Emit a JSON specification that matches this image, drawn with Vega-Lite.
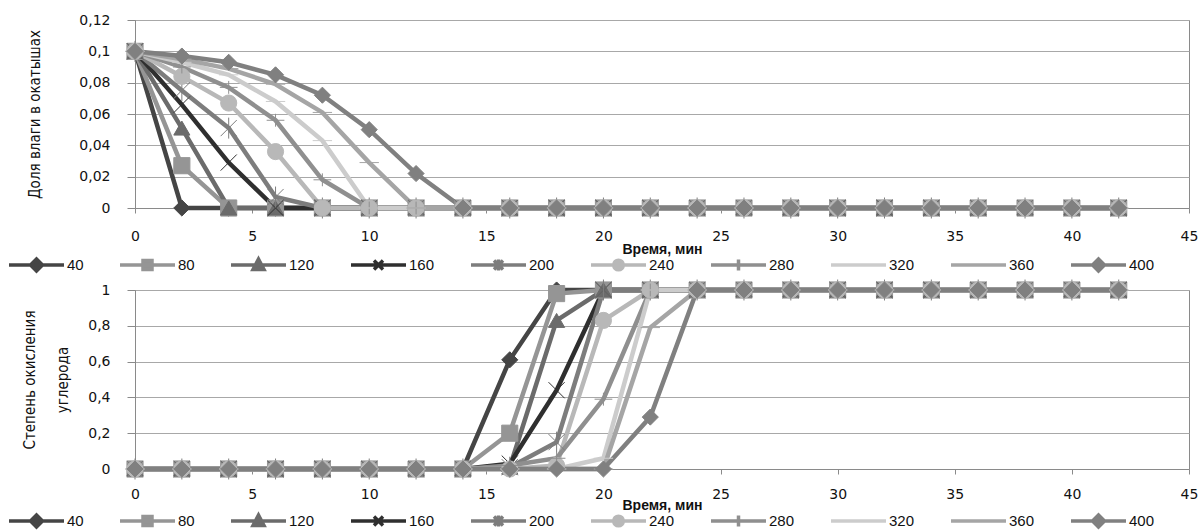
{
  "$schema": "https://vega.github.io/schema/vega-lite/v6.json",
  "background": "white",
  "padding": {"left": 6, "top": 12, "right": 4, "bottom": 2},
  "datasets": {
    "d": [
      {"s":"40","t":0,"w":0.1,"c":0},{"s":"40","t":2,"w":0,"c":0},{"s":"40","t":4,"w":0,"c":0},{"s":"40","t":6,"w":0,"c":0},{"s":"40","t":8,"w":0,"c":0},{"s":"40","t":10,"w":0,"c":0},{"s":"40","t":12,"w":0,"c":0},{"s":"40","t":14,"w":0,"c":0},{"s":"40","t":16,"w":0,"c":0.61},{"s":"40","t":18,"w":0,"c":1},{"s":"40","t":20,"w":0,"c":1},{"s":"40","t":22,"w":0,"c":1},{"s":"40","t":24,"w":0,"c":1},{"s":"40","t":26,"w":0,"c":1},{"s":"40","t":28,"w":0,"c":1},{"s":"40","t":30,"w":0,"c":1},{"s":"40","t":32,"w":0,"c":1},{"s":"40","t":34,"w":0,"c":1},{"s":"40","t":36,"w":0,"c":1},{"s":"40","t":38,"w":0,"c":1},{"s":"40","t":40,"w":0,"c":1},{"s":"40","t":42,"w":0,"c":1},
      {"s":"80","t":0,"w":0.1,"c":0},{"s":"80","t":2,"w":0.027,"c":0},{"s":"80","t":4,"w":0,"c":0},{"s":"80","t":6,"w":0,"c":0},{"s":"80","t":8,"w":0,"c":0},{"s":"80","t":10,"w":0,"c":0},{"s":"80","t":12,"w":0,"c":0},{"s":"80","t":14,"w":0,"c":0},{"s":"80","t":16,"w":0,"c":0.2},{"s":"80","t":18,"w":0,"c":0.98},{"s":"80","t":20,"w":0,"c":1},{"s":"80","t":22,"w":0,"c":1},{"s":"80","t":24,"w":0,"c":1},{"s":"80","t":26,"w":0,"c":1},{"s":"80","t":28,"w":0,"c":1},{"s":"80","t":30,"w":0,"c":1},{"s":"80","t":32,"w":0,"c":1},{"s":"80","t":34,"w":0,"c":1},{"s":"80","t":36,"w":0,"c":1},{"s":"80","t":38,"w":0,"c":1},{"s":"80","t":40,"w":0,"c":1},{"s":"80","t":42,"w":0,"c":1},
      {"s":"120","t":0,"w":0.1,"c":0},{"s":"120","t":2,"w":0.051,"c":0},{"s":"120","t":4,"w":0,"c":0},{"s":"120","t":6,"w":0,"c":0},{"s":"120","t":8,"w":0,"c":0},{"s":"120","t":10,"w":0,"c":0},{"s":"120","t":12,"w":0,"c":0},{"s":"120","t":14,"w":0,"c":0},{"s":"120","t":16,"w":0,"c":0.01},{"s":"120","t":18,"w":0,"c":0.83},{"s":"120","t":20,"w":0,"c":1},{"s":"120","t":22,"w":0,"c":1},{"s":"120","t":24,"w":0,"c":1},{"s":"120","t":26,"w":0,"c":1},{"s":"120","t":28,"w":0,"c":1},{"s":"120","t":30,"w":0,"c":1},{"s":"120","t":32,"w":0,"c":1},{"s":"120","t":34,"w":0,"c":1},{"s":"120","t":36,"w":0,"c":1},{"s":"120","t":38,"w":0,"c":1},{"s":"120","t":40,"w":0,"c":1},{"s":"120","t":42,"w":0,"c":1},
      {"s":"160","t":0,"w":0.1,"c":0},{"s":"160","t":2,"w":0.066,"c":0},{"s":"160","t":4,"w":0.029,"c":0},{"s":"160","t":6,"w":0,"c":0},{"s":"160","t":8,"w":0,"c":0},{"s":"160","t":10,"w":0,"c":0},{"s":"160","t":12,"w":0,"c":0},{"s":"160","t":14,"w":0,"c":0},{"s":"160","t":16,"w":0,"c":0.03},{"s":"160","t":18,"w":0,"c":0.44},{"s":"160","t":20,"w":0,"c":1},{"s":"160","t":22,"w":0,"c":1},{"s":"160","t":24,"w":0,"c":1},{"s":"160","t":26,"w":0,"c":1},{"s":"160","t":28,"w":0,"c":1},{"s":"160","t":30,"w":0,"c":1},{"s":"160","t":32,"w":0,"c":1},{"s":"160","t":34,"w":0,"c":1},{"s":"160","t":36,"w":0,"c":1},{"s":"160","t":38,"w":0,"c":1},{"s":"160","t":40,"w":0,"c":1},{"s":"160","t":42,"w":0,"c":1},
      {"s":"200","t":0,"w":0.1,"c":0},{"s":"200","t":2,"w":0.075,"c":0},{"s":"200","t":4,"w":0.051,"c":0},{"s":"200","t":6,"w":0.007,"c":0},{"s":"200","t":8,"w":0,"c":0},{"s":"200","t":10,"w":0,"c":0},{"s":"200","t":12,"w":0,"c":0},{"s":"200","t":14,"w":0,"c":0},{"s":"200","t":16,"w":0,"c":0.01},{"s":"200","t":18,"w":0,"c":0.15},{"s":"200","t":20,"w":0,"c":1},{"s":"200","t":22,"w":0,"c":1},{"s":"200","t":24,"w":0,"c":1},{"s":"200","t":26,"w":0,"c":1},{"s":"200","t":28,"w":0,"c":1},{"s":"200","t":30,"w":0,"c":1},{"s":"200","t":32,"w":0,"c":1},{"s":"200","t":34,"w":0,"c":1},{"s":"200","t":36,"w":0,"c":1},{"s":"200","t":38,"w":0,"c":1},{"s":"200","t":40,"w":0,"c":1},{"s":"200","t":42,"w":0,"c":1},
      {"s":"240","t":0,"w":0.1,"c":0},{"s":"240","t":2,"w":0.084,"c":0},{"s":"240","t":4,"w":0.067,"c":0},{"s":"240","t":6,"w":0.036,"c":0},{"s":"240","t":8,"w":0,"c":0},{"s":"240","t":10,"w":0,"c":0},{"s":"240","t":12,"w":0,"c":0},{"s":"240","t":14,"w":0,"c":0},{"s":"240","t":16,"w":0,"c":0},{"s":"240","t":18,"w":0,"c":0.02},{"s":"240","t":20,"w":0,"c":0.83},{"s":"240","t":22,"w":0,"c":1},{"s":"240","t":24,"w":0,"c":1},{"s":"240","t":26,"w":0,"c":1},{"s":"240","t":28,"w":0,"c":1},{"s":"240","t":30,"w":0,"c":1},{"s":"240","t":32,"w":0,"c":1},{"s":"240","t":34,"w":0,"c":1},{"s":"240","t":36,"w":0,"c":1},{"s":"240","t":38,"w":0,"c":1},{"s":"240","t":40,"w":0,"c":1},{"s":"240","t":42,"w":0,"c":1},
      {"s":"280","t":0,"w":0.1,"c":0},{"s":"280","t":2,"w":0.09,"c":0},{"s":"280","t":4,"w":0.077,"c":0},{"s":"280","t":6,"w":0.056,"c":0},{"s":"280","t":8,"w":0.018,"c":0},{"s":"280","t":10,"w":0,"c":0},{"s":"280","t":12,"w":0,"c":0},{"s":"280","t":14,"w":0,"c":0},{"s":"280","t":16,"w":0,"c":0.02},{"s":"280","t":18,"w":0,"c":0.06},{"s":"280","t":20,"w":0,"c":0.39},{"s":"280","t":22,"w":0,"c":1},{"s":"280","t":24,"w":0,"c":1},{"s":"280","t":26,"w":0,"c":1},{"s":"280","t":28,"w":0,"c":1},{"s":"280","t":30,"w":0,"c":1},{"s":"280","t":32,"w":0,"c":1},{"s":"280","t":34,"w":0,"c":1},{"s":"280","t":36,"w":0,"c":1},{"s":"280","t":38,"w":0,"c":1},{"s":"280","t":40,"w":0,"c":1},{"s":"280","t":42,"w":0,"c":1},
      {"s":"320","t":0,"w":0.1,"c":0},{"s":"320","t":2,"w":0.093,"c":0},{"s":"320","t":4,"w":0.085,"c":0},{"s":"320","t":6,"w":0.068,"c":0},{"s":"320","t":8,"w":0.043,"c":0},{"s":"320","t":10,"w":0,"c":0},{"s":"320","t":12,"w":0,"c":0},{"s":"320","t":14,"w":0,"c":0},{"s":"320","t":16,"w":0,"c":0},{"s":"320","t":18,"w":0,"c":0},{"s":"320","t":20,"w":0,"c":0.06},{"s":"320","t":22,"w":0,"c":1},{"s":"320","t":24,"w":0,"c":1},{"s":"320","t":26,"w":0,"c":1},{"s":"320","t":28,"w":0,"c":1},{"s":"320","t":30,"w":0,"c":1},{"s":"320","t":32,"w":0,"c":1},{"s":"320","t":34,"w":0,"c":1},{"s":"320","t":36,"w":0,"c":1},{"s":"320","t":38,"w":0,"c":1},{"s":"320","t":40,"w":0,"c":1},{"s":"320","t":42,"w":0,"c":1},
      {"s":"360","t":0,"w":0.1,"c":0},{"s":"360","t":2,"w":0.095,"c":0},{"s":"360","t":4,"w":0.089,"c":0},{"s":"360","t":6,"w":0.079,"c":0},{"s":"360","t":8,"w":0.061,"c":0},{"s":"360","t":10,"w":0.029,"c":0},{"s":"360","t":12,"w":0,"c":0},{"s":"360","t":14,"w":0,"c":0},{"s":"360","t":16,"w":0,"c":0},{"s":"360","t":18,"w":0,"c":0},{"s":"360","t":20,"w":0,"c":0},{"s":"360","t":22,"w":0,"c":0.79},{"s":"360","t":24,"w":0,"c":1},{"s":"360","t":26,"w":0,"c":1},{"s":"360","t":28,"w":0,"c":1},{"s":"360","t":30,"w":0,"c":1},{"s":"360","t":32,"w":0,"c":1},{"s":"360","t":34,"w":0,"c":1},{"s":"360","t":36,"w":0,"c":1},{"s":"360","t":38,"w":0,"c":1},{"s":"360","t":40,"w":0,"c":1},{"s":"360","t":42,"w":0,"c":1},
      {"s":"400","t":0,"w":0.1,"c":0},{"s":"400","t":2,"w":0.097,"c":0},{"s":"400","t":4,"w":0.093,"c":0},{"s":"400","t":6,"w":0.085,"c":0},{"s":"400","t":8,"w":0.072,"c":0},{"s":"400","t":10,"w":0.05,"c":0},{"s":"400","t":12,"w":0.022,"c":0},{"s":"400","t":14,"w":0,"c":0},{"s":"400","t":16,"w":0,"c":0},{"s":"400","t":18,"w":0,"c":0},{"s":"400","t":20,"w":0,"c":0},{"s":"400","t":22,"w":0,"c":0.29},{"s":"400","t":24,"w":0,"c":1},{"s":"400","t":26,"w":0,"c":1},{"s":"400","t":28,"w":0,"c":1},{"s":"400","t":30,"w":0,"c":1},{"s":"400","t":32,"w":0,"c":1},{"s":"400","t":34,"w":0,"c":1},{"s":"400","t":36,"w":0,"c":1},{"s":"400","t":38,"w":0,"c":1},{"s":"400","t":40,"w":0,"c":1},{"s":"400","t":42,"w":0,"c":1}
    ]
  },
  "config": {
    "view": {"stroke": "#8a8a8a", "strokeWidth": 1},
    "axis": {"labelFont": "DejaVu Sans", "labelFontSize": 14, "labelColor": "#111111", "titleColor": "#111111", "domainColor": "#8a8a8a", "tickColor": "#8a8a8a", "gridColor": "#a8a8a8", "gridWidth": 1, "labelOverlap": false}
  },
  "vconcat": [
    {
      "width": 1054,
      "height": 188,
      "data": {"name": "d"},
      "layer": [
        {
          "mark": {"type": "line", "strokeWidth": 4.5},
          "encoding": {
            "x": {"field": "t", "type": "quantitative", "scale": {"domain": [0, 45]}, "axis": {"title": "Время, мин", "values": [0,5,10,15,20,25,30,35,40,45], "tickCount": 20, "grid": false, "tickSize": 5, "labelPadding": 16, "labelFlush": false, "labelOverlap": false, "titleFont": "Liberation Sans", "titleFontSize": 14, "titleFontWeight": "bold", "titlePadding": -1}},
            "y": {"field": "w", "type": "quantitative", "scale": {"domain": [0, 0.12]}, "axis": {"title": "Доля влаги в окатышах", "values": [0,0.02,0.04,0.06,0.08,0.1,0.12], "tickCount": 20, "labelExpr": "replace(format(datum.value,'~g'),'.',',')", "labelOverlap": false, "labelBound": false, "tickSize": 8, "labelPadding": 17, "titleFont": "DejaVu Sans Condensed, Liberation Sans", "titleFontSize": 15, "titleFontWeight": "normal", "titlePadding": 36}},
            "color": {"field": "s", "type": "nominal", "scale": {"domain": ["40","80","120","160","200","240","280","320","360","400"], "range": ["#454545","#959595","#6b6b6b","#2f2f2f","#7d7d7d","#b8b8b8","#8f8f8f","#cccccc","#a5a5a5","#808080"]},
              "legend": {"orient": "none", "legendX": -128, "legendY": 233, "direction": "horizontal", "columns": 10, "gridAlign": "each", "columnPadding": 29, "title": null, "symbolSize": 400, "symbolStrokeWidth": 3.5, "labelFont": "Liberation Sans", "labelFontSize": 15, "labelColor": "#111111", "labelOffset": 36,
                "encode": {"symbols": {"update": {
                  "shape": {"signal": "['M-1,0H4.5M1.75,-0.6L2.35,0L1.75,0.6L1.15,0Z','M-1,0H4.5M1.3,-0.45H2.2V0.45H1.3Z','M-1,0H4.5M1.75,-0.6L2.3,0.45H1.2Z','M-1,0H4.5M1.3,-0.45L2.2,0.45M1.3,0.45L2.2,-0.45','M-1,0H4.5M1.3,-0.45L2.2,0.45M1.3,0.45L2.2,-0.45M1.75,-0.55V0.55','M-1,0H4.5M1.27,0A0.48,0.48 0 1,0 2.23,0A0.48,0.48 0 1,0 1.27,0Z','M-1,0H4.5M1.75,-0.55V0.55','M-1,0H4.5','M-1,0H4.5','M-1,0H4.5M1.75,-0.6L2.35,0L1.75,0.6L1.15,0Z'][indexof(['40','80','120','160','200','240','280','320','360','400'], datum.value)] + 'M1.75,-0.8M1.75,0.8'"},
                  "fill": {"signal": "['#454545','#959595','#6b6b6b','#2f2f2f','#7d7d7d','#b8b8b8','#8f8f8f','#cccccc','#a5a5a5','#808080'][indexof(['40','80','120','160','200','240','280','320','360','400'], datum.value)]"},
                  "stroke": {"signal": "['#454545','#959595','#6b6b6b','#2f2f2f','#7d7d7d','#b8b8b8','#8f8f8f','#cccccc','#a5a5a5','#808080'][indexof(['40','80','120','160','200','240','280','320','360','400'], datum.value)]"},
                  "strokeWidth": {"value": 3.5},
                  "opacity": {"value": 1}
                }}}
              }
            }
          }
        },
        {
          "mark": {"type": "point", "filled": true, "size": 260, "opacity": 1},
          "encoding": {
            "x": {"field": "t", "type": "quantitative"},
            "y": {"field": "w", "type": "quantitative"},
            "fill": {"field": "s", "type": "nominal", "scale": {"domain": ["40","80","120","160","200","240","280","320","360","400"], "range": ["#454545","#959595","#6b6b6b","#2f2f2f","#7d7d7d","#b8b8b8","#8f8f8f","#cccccc","#a5a5a5","#808080"]}, "legend": null},
            "stroke": {"field": "s", "type": "nominal", "scale": {"domain": ["40","80","120","160","200","240","280","320","360","400"], "range": ["#454545","#959595","#6b6b6b","#2f2f2f","#7d7d7d","#b8b8b8","#8f8f8f","#cccccc","#a5a5a5","#808080"]}, "legend": null},
            "shape": {"field": "s", "type": "nominal", "scale": {"domain": ["40","80","120","160","200","240","280","320","360","400"], "range": ["diamond","square","triangle-up","M-1,-1L1,1M-1,1L1,-1","M-1,-1L1,1M-1,1L1,-1M0,-1.3V1.3","circle","M-1.1,0H1.1M0,-0.8V0.8","M-1.2,0H1.2","M-1.2,0H1.2","diamond"]}, "legend": null},
            "strokeWidth": {"field": "s", "type": "nominal", "scale": {"domain": ["40","80","120","160","200","240","280","320","360","400"], "range": [1,1,1,2.5,2,1,2.5,3,3,1]}, "legend": null}
          }
        }
      ]
    },
    {
      "width": 1054,
      "height": 179,
      "data": {"name": "d"},
      "layer": [
        {
          "mark": {"type": "line", "strokeWidth": 4.5},
          "encoding": {
            "x": {"field": "t", "type": "quantitative", "scale": {"domain": [0, 45]}, "axis": {"title": "Время, мин", "values": [0,5,10,15,20,25,30,35,40,45], "tickCount": 20, "grid": false, "tickSize": 5, "labelPadding": 13, "labelFlush": false, "labelOverlap": false, "titleFont": "Liberation Sans", "titleFontSize": 14, "titleFontWeight": "bold", "titlePadding": -3}},
            "y": {"field": "c", "type": "quantitative", "scale": {"domain": [0, 1]}, "axis": {"title": ["Степень окисления", "углерода"], "values": [0,0.2,0.4,0.6,0.8,1], "tickCount": 20, "labelExpr": "replace(format(datum.value,'~g'),'.',',')", "labelOverlap": false, "labelBound": false, "tickSize": 8, "labelPadding": 17, "titleFont": "DejaVu Sans Condensed, Liberation Sans", "titleFontSize": 15, "titleFontWeight": "normal", "titleLineHeight": 33, "titlePadding": 17}},
            "color": {"field": "s", "type": "nominal", "scale": {"domain": ["40","80","120","160","200","240","280","320","360","400"], "range": ["#454545","#959595","#6b6b6b","#2f2f2f","#7d7d7d","#b8b8b8","#8f8f8f","#cccccc","#a5a5a5","#808080"]},
              "legend": {"orient": "none", "legendX": -128, "legendY": 219, "direction": "horizontal", "columns": 10, "gridAlign": "each", "columnPadding": 29, "title": null, "symbolSize": 400, "symbolStrokeWidth": 3.5, "labelFont": "Liberation Sans", "labelFontSize": 15, "labelColor": "#111111", "labelOffset": 36,
                "encode": {"symbols": {"update": {
                  "shape": {"signal": "['M-1,0H4.5M1.75,-0.6L2.35,0L1.75,0.6L1.15,0Z','M-1,0H4.5M1.3,-0.45H2.2V0.45H1.3Z','M-1,0H4.5M1.75,-0.6L2.3,0.45H1.2Z','M-1,0H4.5M1.3,-0.45L2.2,0.45M1.3,0.45L2.2,-0.45','M-1,0H4.5M1.3,-0.45L2.2,0.45M1.3,0.45L2.2,-0.45M1.75,-0.55V0.55','M-1,0H4.5M1.27,0A0.48,0.48 0 1,0 2.23,0A0.48,0.48 0 1,0 1.27,0Z','M-1,0H4.5M1.75,-0.55V0.55','M-1,0H4.5','M-1,0H4.5','M-1,0H4.5M1.75,-0.6L2.35,0L1.75,0.6L1.15,0Z'][indexof(['40','80','120','160','200','240','280','320','360','400'], datum.value)] + 'M1.75,-0.8M1.75,0.8'"},
                  "fill": {"signal": "['#454545','#959595','#6b6b6b','#2f2f2f','#7d7d7d','#b8b8b8','#8f8f8f','#cccccc','#a5a5a5','#808080'][indexof(['40','80','120','160','200','240','280','320','360','400'], datum.value)]"},
                  "stroke": {"signal": "['#454545','#959595','#6b6b6b','#2f2f2f','#7d7d7d','#b8b8b8','#8f8f8f','#cccccc','#a5a5a5','#808080'][indexof(['40','80','120','160','200','240','280','320','360','400'], datum.value)]"},
                  "strokeWidth": {"value": 3.5},
                  "opacity": {"value": 1}
                }}}
              }
            }
          }
        },
        {
          "mark": {"type": "point", "filled": true, "size": 260, "opacity": 1},
          "encoding": {
            "x": {"field": "t", "type": "quantitative"},
            "y": {"field": "c", "type": "quantitative"},
            "fill": {"field": "s", "type": "nominal", "scale": {"domain": ["40","80","120","160","200","240","280","320","360","400"], "range": ["#454545","#959595","#6b6b6b","#2f2f2f","#7d7d7d","#b8b8b8","#8f8f8f","#cccccc","#a5a5a5","#808080"]}, "legend": null},
            "stroke": {"field": "s", "type": "nominal", "scale": {"domain": ["40","80","120","160","200","240","280","320","360","400"], "range": ["#454545","#959595","#6b6b6b","#2f2f2f","#7d7d7d","#b8b8b8","#8f8f8f","#cccccc","#a5a5a5","#808080"]}, "legend": null},
            "shape": {"field": "s", "type": "nominal", "scale": {"domain": ["40","80","120","160","200","240","280","320","360","400"], "range": ["diamond","square","triangle-up","M-1,-1L1,1M-1,1L1,-1","M-1,-1L1,1M-1,1L1,-1M0,-1.3V1.3","circle","M-1.1,0H1.1M0,-0.8V0.8","M-1.2,0H1.2","M-1.2,0H1.2","diamond"]}, "legend": null},
            "strokeWidth": {"field": "s", "type": "nominal", "scale": {"domain": ["40","80","120","160","200","240","280","320","360","400"], "range": [1,1,1,2.5,2,1,2.5,3,3,1]}, "legend": null}
          }
        }
      ]
    }
  ],
  "spacing": 82,
  "bounds": "flush",
  "resolve": {"scale": {"color": "independent"}, "legend": {"color": "independent"}}
}
